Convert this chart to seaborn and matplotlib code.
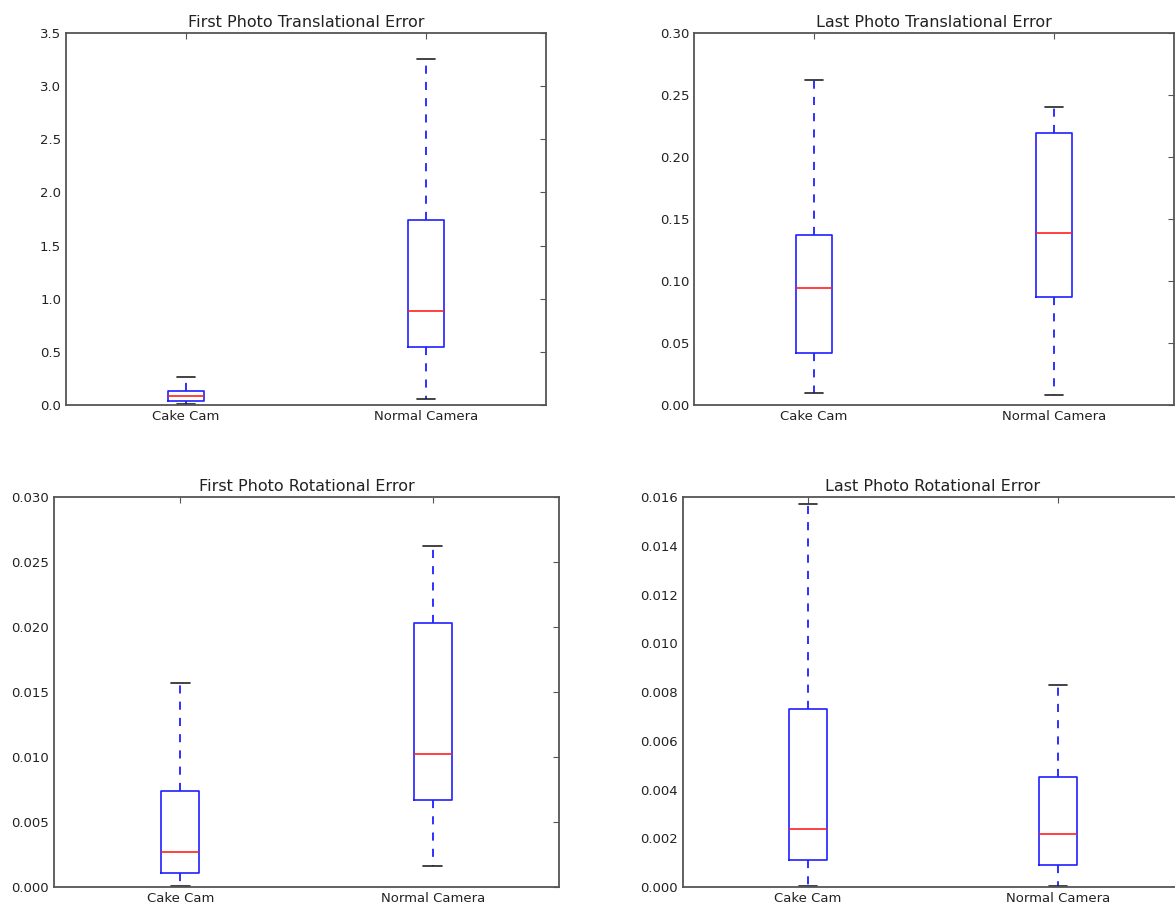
import matplotlib
matplotlib.use("Agg")
import matplotlib.pyplot as plt
import seaborn as sns
import pandas as pd

sns.set_style("white")
plt.rcParams['font.family'] = ['DejaVu Sans']

categories = ["Cake Cam", "Normal Camera"]

# five-number summaries: min, q1, median, q3, max
first_trans_cake = [0.005, 0.04, 0.085, 0.13, 0.26]
first_trans_normal = [0.06, 0.55, 0.88, 1.74, 3.26]
last_trans_cake = [0.010, 0.042, 0.094, 0.137, 0.262]
last_trans_normal = [0.008, 0.087, 0.139, 0.219, 0.240]
first_rot_cake = [0.0001, 0.0011, 0.0027, 0.0074, 0.0157]
first_rot_normal = [0.0016, 0.0067, 0.0102, 0.0203, 0.0262]
last_rot_cake = [0.00005, 0.0011, 0.00237, 0.0073, 0.0157]
last_rot_normal = [0.00005, 0.0009, 0.00217, 0.0045, 0.0083]

titles = ["First Photo Translational Error", "Last Photo Translational Error",
          "First Photo Rotational Error", "Last Photo Rotational Error"]
ylims = [3.5, 0.30, 0.030, 0.016]
panels = [(first_trans_cake, first_trans_normal), (last_trans_cake, last_trans_normal),
          (first_rot_cake, first_rot_normal), (last_rot_cake, last_rot_normal)]

W, H = 1175, 905
fig = plt.figure(figsize=(W / 100, H / 100), dpi=100)
rects_px = [(66, 33, 546, 405), (694, 33, 1174, 405), (54, 497, 559, 887), (683, 497, 1183, 887)]

for (l, t, r, b), title, ymax, (cake, normal) in zip(rects_px, titles, ylims, panels):
    ax = fig.add_axes([l / W, (H - b) / H, (r - l) / W, (b - t) / H])
    df = pd.DataFrame({
        "camera": [categories[0]] * len(cake) + [categories[1]] * len(normal),
        "value": list(cake) + list(normal),
    })
    sns.boxplot(data=df, x="camera", y="value", ax=ax, order=categories,
                width=0.15, whis=(0, 100), fill=False, color="#2020ff", linewidth=1.2,
                boxprops=dict(color="#2020ff", linewidth=1.2),
                whiskerprops=dict(color="#2020ff", linestyle=(0, (4.5, 4.5)), linewidth=1.3),
                capprops=dict(color="#222222", linewidth=1.2),
                medianprops=dict(color="#ff2020", linewidth=1.2),
                showfliers=False)
    ax.set_xlim(-0.5, 1.5)
    ax.set_ylim(0, ymax)
    ax.set_xlabel("")
    ax.set_ylabel("")
    ax.set_title(title, fontsize=11.5, color="#222222", pad=4)
    ax.tick_params(direction="in", top=True, right=True, length=4, width=0.8,
                   labelsize=9.5, labelcolor="#222222", color="#555555")
    for s in ax.spines.values():
        s.set_color("#555555")
        s.set_linewidth(1.3)

fig.savefig("out.png", dpi=100, facecolor="white")
